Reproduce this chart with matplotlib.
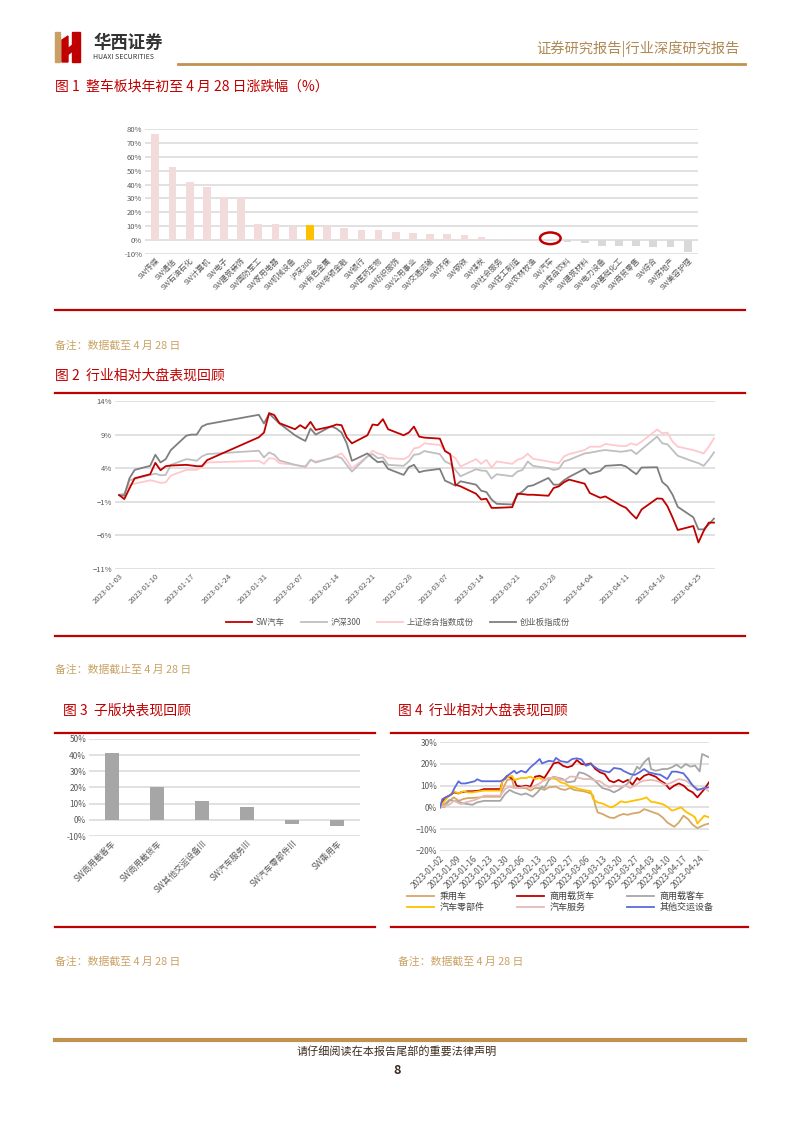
import numpy as np
import pandas as pd
import matplotlib
matplotlib.use("Agg")
import matplotlib.pyplot as plt
from matplotlib.patches import Ellipse, Rectangle, Polygon
from matplotlib.lines import Line2D

plt.rcParams['font.family'] = ['Noto Sans CJK SC', 'DejaVu Sans']
plt.rcParams['axes.unicode_minus'] = True

W, H = 794, 1123

# ---------------- 图1 数据 ----------------
f1_cats = ['SW传媒', 'SW通信', 'SW石油石化', 'SW计算机', 'SW电子', 'SW建筑装饰', 'SW国防军工',
           'SW家用电器', 'SW机械设备', '沪深300', 'SW有色金属', 'SW非银金融', 'SW银行', 'SW医药生物',
           'SW纺织服饰', 'SW公用事业', 'SW交通运输', 'SW环保', 'SW钢铁', 'SW煤炭', 'SW社会服务',
           'SW轻工制造', 'SW农林牧渔', 'SW汽车', 'SW食品饮料', 'SW建筑材料', 'SW电力设备',
           'SW基础化工', 'SW商贸零售', 'SW综合', 'SW房地产', 'SW美容护理']
f1_vals = [76.3, 52.4, 41.5, 38.6, 31.4, 30.7, 11.8, 11.8, 10.4, 10.6, 9.9, 8.9, 7.5, 7.5,
           6.0, 5.3, 4.6, 4.6, 3.9, 2.4, 1.0, 0.5, 0.1, -0.4, -1.4, -2.2, -3.9,
           -3.9, -4.6, -5.3, -5.3, -8.9]

# ---------------- 图2 数据（交易日） ----------------
holidays = ['2023-01-23', '2023-01-24', '2023-01-25', '2023-01-26', '2023-01-27', '2023-04-05']
f2_dates = pd.bdate_range('2023-01-03', '2023-04-28').drop(pd.to_datetime(holidays))
sw_auto = [0, -0.6, 1.0, 2.5, 3.1, 4.8, 3.7, 4.3, 4.4, 4.5, 4.4, 4.3, 4.3, 5.2, 8.6, 9.3,
           12.2, 11.9, 10.7, 9.8, 10.4, 9.9, 10.9, 9.7, 10.2, 10.5, 10.4, 8.6, 7.7, 8.9, 10.5, 10.4, 11.3, 9.8, 8.9, 9.3,
           10.2, 8.7, 8.55, 8.4, 6.55, 6.1, 1.55, 1.3, 0.2, -0.65, -0.55, -1.9, -1.9, -1.8, 0.2, 0.15, 0.05, 0.05,
           -0.1, 1.05, 1.3, 1.9, 2.3,
           1.7, 0.3, -0.4, -0.2, -1.55, -1.9, -2.75, -3.5, -2.15, -0.5, -0.55, -1.65, -3.35, -5.2, -4.6, -7.05,
           -5.35, -4.1, -4.1]
hs300 = [0, 0.2, 2.2, 2.4, 3.0, 3.2, 2.95, 3.0, 4.5, 5.35, 5.25, 5.1, 5.75, 6.1, 6.6, 5.6,
         6.35, 6.0, 5.15, 4.5, 4.35, 4.25, 5.25, 4.85, 5.5, 5.75, 5.5, 4.5, 3.5, 5.75, 6.1, 5.5, 5.6, 4.5, 4.35, 5.0,
         6.0, 6.1, 6.55, 6.1, 5.0, 4.65, 3.75, 2.8, 3.85, 3.65, 3.6, 2.45, 3.1, 2.8, 3.5, 3.75, 5.0, 4.35,
         4.0, 3.75, 3.9, 5.0, 5.25,
         6.2, 6.3, 6.6, 6.7, 6.45, 6.55, 6.7, 6.1, 6.8, 8.7, 7.7, 7.55, 6.7, 5.85, 5.0, 4.75, 4.35, 5.25, 6.35]
sh_comp = [0, 0.2, 1.55, 1.7, 2.2, 2.05, 1.8, 1.9, 2.9, 3.75, 3.75, 3.75, 4.15, 4.85, 5.1, 4.65,
           5.5, 5.4, 4.75, 4.5, 4.35, 4.0, 5.25, 5.0, 5.5, 5.85, 6.2, 5.25, 4.0, 5.75, 6.6, 6.2, 6.0, 5.5, 5.35, 5.75,
           6.95, 7.1, 7.7, 7.45, 6.7, 6.0, 5.5, 4.25, 5.35, 4.65, 5.25, 4.1, 5.0, 4.65, 5.25, 5.5, 6.15, 5.4,
           5.0, 4.85, 4.75, 5.75, 6.1,
           6.7, 7.2, 7.2, 7.6, 7.3, 7.3, 7.7, 7.45, 7.95, 9.75, 9.2, 9.3, 7.95, 7.2, 6.7, 6.45, 6.2, 7.2, 8.45]
cyb = [0, -0.1, 2.5, 3.75, 4.35, 6.0, 4.85, 5.35, 6.7, 8.85, 9.0, 9.0, 10.2, 10.55, 11.95, 10.65,
       12.1, 11.4, 10.65, 8.9, 8.45, 8.05, 9.9, 9.0, 10.25, 9.9, 9.3, 7.7, 5.1, 6.2, 5.5, 4.9, 5.0, 3.9, 3.0, 4.15,
       4.5, 3.4, 3.6, 3.9, 2.15, 1.8, 1.4, 2.05, 1.55, 0.65, 0.45, -0.65, -1.3, -1.4, 0.05, 0.55, 1.3, 1.45,
       2.55, 1.55, 1.55, 2.2, 2.7,
       3.9, 3.15, 3.6, 4.35, 4.5, 4.25, 3.65, 3.1, 4.1, 4.15, 1.95, 1.3, 0.05, -1.75, -3.3, -5.1, -5.1, -4.35, -3.5]

# ---------------- 图3 数据 ----------------
f3_cats = ['SW商用载客车', 'SW商用载货车', 'SW其他交运设备III', 'SW汽车服务III', 'SW汽车零部件III', 'SW乘用车']
f3_vals = [41.4, 20.4, 11.8, 8.0, -2.3, -3.7]

# ---------------- 图4 数据（距2023-01-02的天数） ----------------
pv_days = [0, 2, 4, 6, 8, 10, 12, 14, 17, 19, 26, 27, 29, 31, 32, 35, 37, 39, 41, 43, 45, 47, 50, 52, 54, 56,
           58, 60, 62, 65, 66, 67, 68, 70, 73, 75, 77, 79, 81, 83, 86, 88, 90, 92, 94, 96, 98, 101, 103, 105,
           107, 109, 111, 114, 116]
pv_vals = [0, 0.3, 3, 4.6, 3, 3.8, 4.3, 4.3, 4.6, 4.9, 4.9, 8.4, 12.6, 13, 8.9, 8.9, 8.9, 7.7, 8.9, 8.9, 8, 9.2,
           9.5, 8.4, 8, 8.9, 8, 7.7, 7.4, 6.4, 5.4, 0.8, -2.3, -3, -4.6, -4.9, -3.8, -3, -3.4, -2.8, -2.3, -0.8,
           -1.5, -2.3, -3, -4.6, -6.9, -8.9, -6.9, -3.8, -5.4, -8, -9.5, -8, -7.4]
truck_days = [0, 2, 4, 6, 8, 9, 12, 14, 17, 19, 26, 27, 29, 32, 33, 35, 37, 39, 41, 43, 45, 47, 49, 51, 53, 55,
              57, 59, 61, 63, 65, 67, 69, 71, 73, 75, 77, 79, 81, 83, 85, 86, 88, 90, 93, 95, 97, 99, 101, 103,
              105, 107, 109, 111, 114, 116]
truck_vals = [0, 4.3, 5.4, 6.9, 6.4, 6.9, 7.4, 7.4, 7.7, 8.4, 8.4, 12.3, 14.5, 12.6, 10, 9.5, 10, 9.5, 14.1, 14.5,
              13.5, 16.8, 20.2, 20.7, 19.1, 18.4, 19.1, 21.7, 19.9, 19.6, 20.2, 17.6, 16.1, 15.3, 12.3, 11.5, 12.6,
              11.5, 12.6, 10.4, 13.5, 12.6, 14.5, 15.3, 14.1, 12.3, 11, 8.4, 10, 11, 10, 8, 6.9, 4.6, 8.4, 11.5]
bus_days = [0, 2, 4, 6, 8, 10, 12, 14, 16, 19, 26, 28, 30, 32, 35, 37, 39, 40, 42, 44, 45, 47, 49, 51, 53, 55,
            58, 60, 62, 64, 66, 68, 70, 73, 75, 77, 79, 81, 83, 85, 86, 88, 90, 91, 93, 96, 98, 100, 102, 104,
            106, 108, 110, 112, 113, 116]
bus_vals = [0, 1.5, 3.4, 3, 2.6, 1.8, 1.5, 1.2, 2.3, 3, 3, 6.1, 8, 6.9, 5.8, 6.4, 5.4, 4.9, 6.9, 9.5, 8.9, 12.6,
            14.1, 13.5, 13, 11.5, 12, 16.1, 15.6, 14.5, 13, 11, 8.9, 8, 6.9, 8, 9.5, 11, 14.5, 18.7, 17.6, 20.7,
            22.7, 17.6, 16.8, 17.6, 17.6, 18.4, 19.6, 18.1, 19.9, 18.7, 19.2, 16.5, 24.5, 23]
parts_days = [0, 2, 4, 6, 8, 10, 12, 14, 17, 19, 26, 27, 29, 31, 32, 35, 37, 39, 41, 43, 45, 47, 50, 52, 54, 56,
              58, 60, 62, 65, 66, 68, 70, 73, 74, 76, 78, 80, 83, 85, 87, 89, 91, 93, 96, 98, 100, 102, 104, 106,
              109, 110, 111, 114, 116]
parts_vals = [0, 3, 5.4, 7.4, 6.4, 7.4, 6.9, 6.9, 7.4, 7.7, 7.7, 12.3, 13.8, 14.5, 12.6, 13.5, 13.5, 14.1, 13, 13.5,
              12.3, 13.5, 13, 11.5, 11, 9.5, 9.2, 8.4, 8, 7.4, 3.8, 2.3, 1.8, 0.3, 0, 1.2, 2.8, 2.3, 3, 3.4, 3.8,
              4.6, 2.6, 2.3, 1.5, 0.3, -1.5, -0.8, 0, -2, -3.8, -4.6, -7.4, -3.8, -4.6]
serv_days = [0, 2, 4, 6, 9, 11, 13, 15, 17, 19, 26, 28, 30, 32, 34, 37, 39, 41, 43, 45, 47, 50, 52, 54, 56, 58,
             60, 62, 65, 67, 69, 71, 73, 75, 78, 80, 82, 84, 86, 88, 91, 93, 95, 97, 99, 101, 103, 106, 108, 110,
             112, 114, 116]
serv_vals = [0, 0.8, 1.2, 3, 1.5, 2.3, 2.8, 3.4, 4.3, 5.4, 5.4, 8.4, 9.5, 8.9, 8.9, 9.5, 8.9, 10, 11, 12.6, 13.5,
             13.8, 12.6, 12.6, 14.1, 14.1, 13.5, 13, 13, 12.3, 12, 10.4, 9.2, 10, 9.5, 10, 8.9, 10, 11.5, 12.3, 12.6,
             12.3, 11.5, 10.4, 11, 12, 13, 12.3, 10.7, 9.5, 8, 8.9, 7.4]
oth_days = [0, 1, 4, 5, 6, 8, 9, 11, 15, 16, 18, 26, 28, 29, 32, 33, 35, 37, 39, 41, 43, 44, 47, 49, 50, 52, 55,
            57, 59, 61, 63, 65, 68, 70, 73, 75, 78, 79, 82, 84, 86, 88, 90, 93, 95, 98, 100, 102, 105, 107, 109,
            111, 114, 116]
oth_vals = [0, 3.8, 5.4, 6, 8.4, 12, 11, 11, 12, 12.9, 12, 12, 13, 14.5, 16.8, 15.6, 16.8, 16, 18.4, 20.2, 22.2,
            20.2, 21.4, 21, 22.7, 21.2, 20.7, 22.2, 22.5, 22, 19.1, 19.9, 17.6, 16.8, 16.1, 18.1, 17.6, 16.8, 15.3,
            14.9, 16.1, 17.6, 16.1, 15.3, 15, 13, 16.4, 16.4, 15.6, 13, 10, 8, 8.9, 9.2]

RED = '#c00000'
GOLD = '#c0914f'
NOTE = '#c9a263'
TICK = '#595959'
GRID = '#d9d9d9'

fig = plt.figure(figsize=(W / 100, H / 100), dpi=100)


def fx(x):
    return x / W


def fy(y):
    return 1 - y / H


def add_ax(l, t, r, b):
    return fig.add_axes([l / W, 1 - b / H, (r - l) / W, (b - t) / H])


def hline(x0, x1, y, color, lw):
    fig.add_artist(Line2D([fx(x0), fx(x1)], [fy(y), fy(y)], color=color, lw=lw,
                          transform=fig.transFigure))


def txt(x, y, s, **kw):
    fig.text(fx(x), fy(y), s, **kw)


def style(ax, fs=5.5):
    for s in ax.spines.values():
        s.set_visible(False)
    ax.grid(axis='y', color=GRID, lw=1.1, zorder=0)
    ax.set_axisbelow(True)
    ax.tick_params(length=0, labelsize=fs, colors=TICK, pad=2)


# ---------------- 页眉 ----------------
fig.add_artist(Rectangle((fx(55), fy(62)), fx(5), 30 / H, color='#c8a064', transform=fig.transFigure))
fig.add_artist(Polygon([(fx(62), fy(40)), (fx(68), fy(36)), (fx(68), fy(62)), (fx(62), fy(62))],
                       closed=True, color=RED, transform=fig.transFigure))
fig.add_artist(Polygon([(fx(72), fy(32)), (fx(80), fy(32)), (fx(80), fy(62)), (fx(72), fy(62))],
                       closed=True, color=RED, transform=fig.transFigure))
fig.add_artist(Polygon([(fx(66), fy(50)), (fx(74), fy(44)), (fx(74), fy(50)), (fx(66), fy(56))],
                       closed=True, color=RED, transform=fig.transFigure))
txt(93, 43, '华西证券', fontsize=12.5, fontweight='bold', color='#333333', va='center')
txt(93, 57, 'HUAXI SECURITIES', fontsize=5, color='#333333', va='center')
txt(740, 49, '证券研究报告|行业深度研究报告', fontsize=10.3, color='#b08a55', va='center', ha='right')
hline(178, 745, 64, GOLD, 2)

# ---------------- 图1 ----------------
txt(55, 87, '图 1  整车板块年初至 4 月 28 日涨跌幅（%）', fontsize=10, color=RED, va='center')
hline(55, 745, 310, RED, 1.6)
ax1 = add_ax(145, 129, 698, 254)
n1 = len(f1_cats)
c1 = []
for c, v in zip(f1_cats, f1_vals):
    if c == '沪深300':
        c1.append('#ffc000')
    elif v >= 0:
        c1.append('#f2dcdb')
    else:
        c1.append('#d9d9d9')
ax1.bar(range(n1), f1_vals, width=0.45, color=c1, zorder=3)
ax1.set_xlim(-0.6, n1 - 0.4)
ax1.set_ylim(-10, 80)
ax1.set_yticks(range(-10, 81, 10))
ax1.set_yticklabels([f'{v}%' for v in range(-10, 81, 10)])
ax1.set_xticks(range(n1))
ax1.set_xticklabels(f1_cats, rotation=45, ha='right', rotation_mode='anchor')
style(ax1)
ax1.add_patch(Ellipse((f1_cats.index('SW汽车'), 1.3), width=1.2, height=8.4, fill=False,
                      ec=RED, lw=1.8, zorder=5))
txt(55, 346, '备注：数据截至 4 月 28 日', fontsize=7.8, color=NOTE, va='center')

# ---------------- 图2 ----------------
txt(55, 376, '图 2  行业相对大盘表现回顾', fontsize=10, color=RED, va='center')
hline(55, 745, 393, RED, 1.6)
hline(55, 745, 636, RED, 1.6)
ax2 = add_ax(115, 401, 715, 569)
d2 = (f2_dates - pd.Timestamp('2023-01-03')).days
ax2.plot(d2, sh_comp, color='#ffc9cc', lw=1.3, label='上证综合指数成份')
ax2.plot(d2, hs300, color='#bfbfbf', lw=1.3, label='沪深300')
ax2.plot(d2, cyb, color='#7f7f7f', lw=1.3, label='创业板指成份')
ax2.plot(d2, sw_auto, color=RED, lw=1.3, label='SW汽车')
ax2.set_xlim(-0.8, 115.2)
ax2.set_ylim(-11, 14)
ax2.set_yticks([-11, -6, -1, 4, 9, 14])
ax2.set_yticklabels(['−11%', '−6%', '−1%', '4%', '9%', '14%'])
t2 = np.arange(0, 113, 7)
ax2.set_xticks(t2)
ax2.set_xticklabels([(pd.Timestamp('2023-01-03') + pd.Timedelta(days=int(d))).strftime('%Y-%m-%d') for d in t2],
                    rotation=45, ha='right', rotation_mode='anchor')
style(ax2)
h2, l2 = ax2.get_legend_handles_labels()
order2 = ['SW汽车', '沪深300', '上证综合指数成份', '创业板指成份']
hmap = dict(zip(l2, h2))
fig.legend([hmap[k] for k in order2], order2, loc='center', bbox_to_anchor=(fx(398), fy(622)),
           ncol=4, frameon=False, fontsize=6, handlelength=3.1, columnspacing=2.0, handletextpad=0.4,
           labelcolor=TICK)
txt(55, 670, '备注：数据截止至 4 月 28 日', fontsize=7.8, color=NOTE, va='center')

# ---------------- 图3 ----------------
txt(63, 711, '图 3  子版块表现回顾', fontsize=10, color=RED, va='center')
hline(55, 375, 733, RED, 1.6)
hline(55, 375, 927, RED, 1.6)
ax3 = add_ax(89, 739, 360, 836)
ax3.bar(range(len(f3_cats)), f3_vals, width=0.31, color='#a6a6a6', zorder=3)
ax3.set_xlim(-0.5, len(f3_cats) - 0.5)
ax3.set_ylim(-10, 50)
ax3.set_yticks(range(-10, 51, 10))
ax3.set_yticklabels([f'{v}%' for v in range(-10, 51, 10)])
ax3.set_xticks(range(len(f3_cats)))
ax3.set_xticklabels(f3_cats, rotation=45, ha='right', rotation_mode='anchor')
style(ax3, 6)
txt(55, 962, '备注：数据截至 4 月 28 日', fontsize=7.8, color=NOTE, va='center')

# ---------------- 图4 ----------------
txt(398, 711, '图 4  行业相对大盘表现回顾', fontsize=10, color=RED, va='center')
hline(391, 748, 733, RED, 1.6)
hline(391, 748, 927, RED, 1.6)
ax4 = add_ax(440, 742, 709, 851)
lw4 = 1.3
p_pv, = ax4.plot(pv_days, pv_vals, color='#d4a76a', lw=lw4)
p_tr, = ax4.plot(truck_days, truck_vals, color=RED, lw=lw4)
p_bu, = ax4.plot(bus_days, bus_vals, color='#a6a6a6', lw=lw4)
p_pa, = ax4.plot(parts_days, parts_vals, color='#ffc000', lw=lw4)
p_se, = ax4.plot(serv_days, serv_vals, color='#e6b8b7', lw=lw4)
p_ot, = ax4.plot(oth_days, oth_vals, color='#5b6bdc', lw=lw4)
ax4.set_xlim(0, 116)
ax4.set_ylim(-20, 30)
ax4.set_yticks(range(-20, 31, 10))
ax4.set_yticklabels(['−20%', '−10%', '0%', '10%', '20%', '30%'])
t4 = np.arange(0, 113, 7)
ax4.set_xticks(t4)
ax4.set_xticklabels([(pd.Timestamp('2023-01-02') + pd.Timedelta(days=int(d))).strftime('%Y-%m-%d') for d in t4],
                    rotation=45, ha='right', rotation_mode='anchor')
style(ax4, 6)
fig.legend([p_pv, p_pa, p_tr, p_se, p_bu, p_ot],
           ['乘用车', '汽车零部件', '商用载货车', '汽车服务', '商用载客车', '其他交运设备'],
           loc='center', bbox_to_anchor=(fx(560), fy(902)), ncol=3, frameon=False, fontsize=6.5,
           handlelength=3.0, columnspacing=3.6, handletextpad=0.6, labelspacing=0.15, labelcolor='#404040')
txt(398, 962, '备注：数据截至 4 月 28 日', fontsize=7.8, color=NOTE, va='center')

# ---------------- 页脚 ----------------
hline(55, 745, 1040, GOLD, 3)
txt(397, 1051, '请仔细阅读在本报告尾部的重要法律声明', fontsize=8, color='#3d2b1f', va='center', ha='center')
txt(397, 1071, '8', fontsize=9, color='#3d2b1f', va='center', ha='center', fontweight='bold', fontstyle='italic')

fig.savefig('out.png', dpi=100)
